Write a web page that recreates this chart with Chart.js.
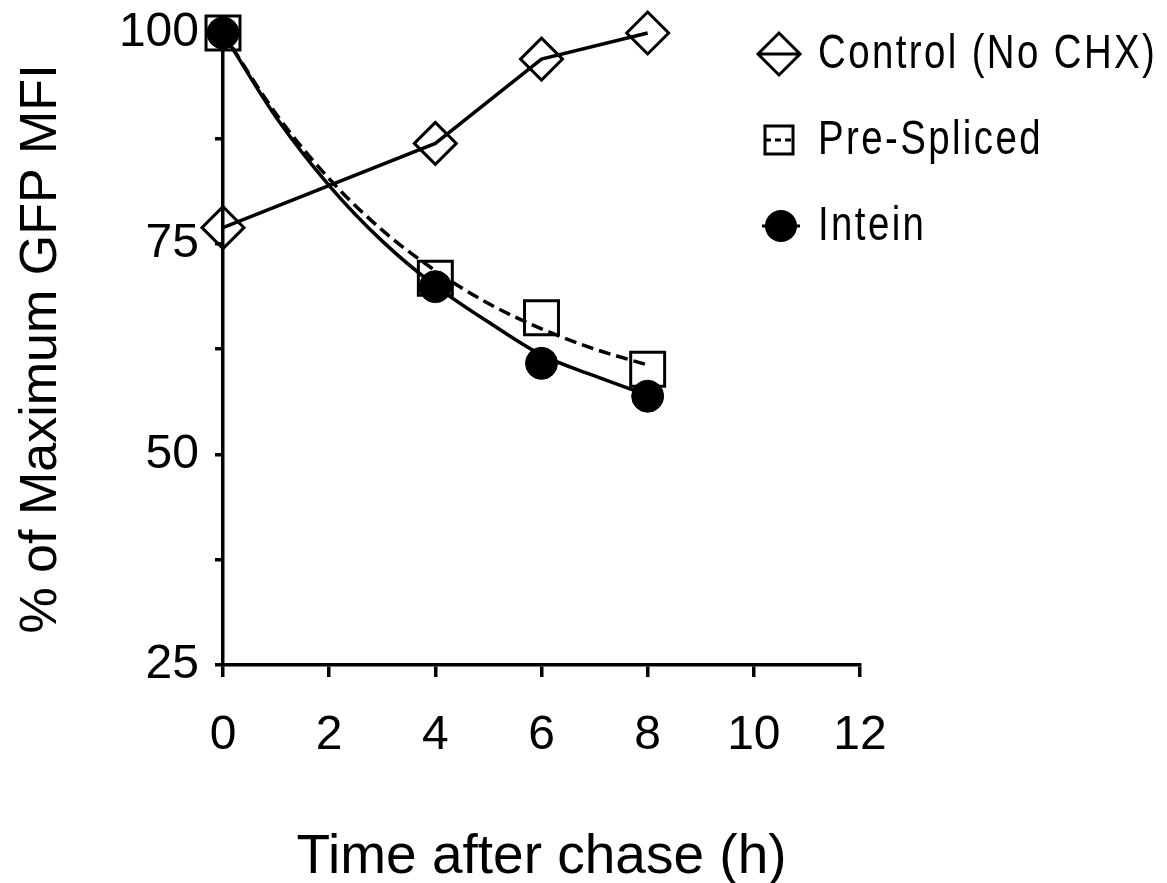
<!DOCTYPE html>
<html>
<head>
<meta charset="utf-8">
<script src="https://cdn.jsdelivr.net/npm/chart.js@4.4.0/dist/chart.umd.min.js"></script>
<style>
html, body { margin: 0; padding: 0; background: #fff; }
#wrap { position: relative; width: 1167px; height: 883px; }
</style>
</head>
<body>
<div id="wrap"><canvas id="myChart"></canvas></div>
<script>
const hours = [0, 4, 6, 8];
const controlValues = [76.9, 86.9, 96.9, 100];
const preSplicedValues = [100, 70.9, 66.2, 60.1];
const inteinValues = [100, 69.9, 60.8, 56.9];

// fitted decay curves
const fitHours = [0, 1, 2, 3, 4, 5, 6, 7, 8];
const preSplicedFit = [100, 90.4, 82.7, 76.6, 71.8, 67.9, 64.9, 62.5, 60.6];
const inteinFit = [100, 90.0, 81.9, 75.3, 70.0, 65.7, 61.8, 59.3, 57.0];

const seriesNames = ['Control (No CHX)', 'Pre-Spliced', 'Intein'];
const xTitle = 'Time after chase (h)';
const yTitle = '% of Maximum GFP MFI';

const FONT = "'Liberation Sans', Arial, sans-serif";
const LINE = 3.5;

function toPoints(xs, ys) {
    return xs.map((x, i) => ({ x: x, y: ys[i] }));
}

// legend drawn by hand so it can overlap the plot box like the original
const legendPlugin = {
    id: 'sideLegend',
    afterDraw(chart) {
        const ctx = chart.ctx;
        const rows = [54, 140, 226];
        ctx.save();
        ctx.strokeStyle = '#000';
        ctx.fillStyle = '#000';
        ctx.lineWidth = 3;

        // diamond with line
        let y = rows[0];
        ctx.beginPath();
        ctx.moveTo(758, y); ctx.lineTo(800, y);
        ctx.moveTo(779, y - 21); ctx.lineTo(800, y); ctx.lineTo(779, y + 21); ctx.lineTo(758, y); ctx.closePath();
        ctx.stroke();

        // square with dashed line
        y = rows[1];
        ctx.beginPath();
        ctx.rect(765, y - 14, 28, 28);
        ctx.stroke();
        ctx.setLineDash([6, 4]);
        ctx.beginPath();
        ctx.moveTo(765, y); ctx.lineTo(793, y);
        ctx.stroke();
        ctx.setLineDash([]);

        // filled circle
        y = rows[2];
        ctx.beginPath();
        ctx.moveTo(762, y); ctx.lineTo(800, y);
        ctx.stroke();
        ctx.beginPath();
        ctx.arc(781, y, 16, 0, Math.PI * 2);
        ctx.fill();

        // condensed, letter-spaced text like the source figure
        ctx.font = '48px ' + FONT;
        ctx.letterSpacing = '3px';
        ctx.textBaseline = 'middle';
        ctx.textAlign = 'left';
        seriesNames.forEach((name, i) => {
            ctx.save();
            ctx.translate(818, rows[i] + 1);
            ctx.scale(0.8, 1);
            ctx.fillText(name, 0, 0);
            ctx.restore();
        });
        ctx.restore();
    }
};

const ctx = document.getElementById('myChart');

new Chart(ctx, {
    type: 'line',
    data: {
        datasets: [
            {
                label: seriesNames[2],
                data: toPoints(hours, inteinValues),
                showLine: false,
                pointStyle: 'circle',
                pointRadius: 16,
                pointBackgroundColor: '#000',
                pointBorderColor: '#000',
                pointBorderWidth: 1,
                clip: false
            },
            {
                label: seriesNames[1],
                data: toPoints(hours, preSplicedValues),
                showLine: false,
                pointStyle: 'rect',
                pointRadius: 24,
                pointBackgroundColor: 'rgba(0,0,0,0)',
                pointBorderColor: '#000',
                pointBorderWidth: 3,
                clip: false
            },
            {
                label: 'Intein fit',
                data: toPoints(fitHours, inteinFit),
                borderColor: '#000',
                borderWidth: LINE,
                pointRadius: 0,
                cubicInterpolationMode: 'monotone',
                clip: false
            },
            {
                label: 'Pre-Spliced fit',
                data: toPoints(fitHours, preSplicedFit),
                borderColor: '#000',
                borderWidth: LINE,
                borderDash: [12, 6],
                pointRadius: 0,
                cubicInterpolationMode: 'monotone',
                clip: false
            },
            {
                label: seriesNames[0],
                data: toPoints(hours, controlValues),
                borderColor: '#000',
                borderWidth: LINE,
                tension: 0,
                pointStyle: 'rectRot',
                pointRadius: 21,
                pointBackgroundColor: 'rgba(0,0,0,0)',
                pointBorderColor: '#000',
                pointBorderWidth: 3,
                clip: false
            }
        ]
    },
    options: {
        responsive: true,
        maintainAspectRatio: false,
        animation: false,
        events: [],
        layout: { padding: { top: 33, right: 307, bottom: 0, left: 0 } },
        plugins: {
            legend: { display: false },
            tooltip: { enabled: false }
        },
        scales: {
            x: {
                type: 'linear',
                min: 0,
                max: 12,
                border: { color: '#000', width: LINE },
                grid: { drawOnChartArea: false, drawTicks: true, tickLength: 12, color: '#000', lineWidth: LINE },
                ticks: { stepSize: 2, color: '#000', font: { family: FONT, size: 48 }, padding: 30, maxRotation: 0 },
                title: {
                    display: true,
                    text: xTitle,
                    color: '#000',
                    font: { family: FONT, size: 55, lineHeight: 0.9 },
                    padding: { top: 0, bottom: 0 }
                },
                afterFit: s => {
                    s.height = 218;
                    s.paddingLeft = 0;
                    s.paddingRight = 0;
                }
            },
            y: {
                type: 'linear',
                min: 25,
                max: 100,
                border: { color: '#000', width: LINE },
                grid: { drawOnChartArea: false, drawTicks: true, tickLength: 8, color: '#000', lineWidth: LINE },
                ticks: {
                    stepSize: 12.5,
                    color: '#000',
                    font: { family: FONT, size: 48 },
                    padding: 16,
                    callback: v => (v % 25 === 0 ? v : '')
                },
                title: {
                    display: true,
                    text: yTitle,
                    color: '#000',
                    font: { family: FONT, size: 52 },
                    padding: { top: 10, bottom: 0 }
                },
                afterFit: s => {
                    s.width = 223;
                    s.paddingTop = 0;
                    s.paddingBottom = 0;
                }
            }
        }
    },
    plugins: [legendPlugin]
});
</script>
</body>
</html>
